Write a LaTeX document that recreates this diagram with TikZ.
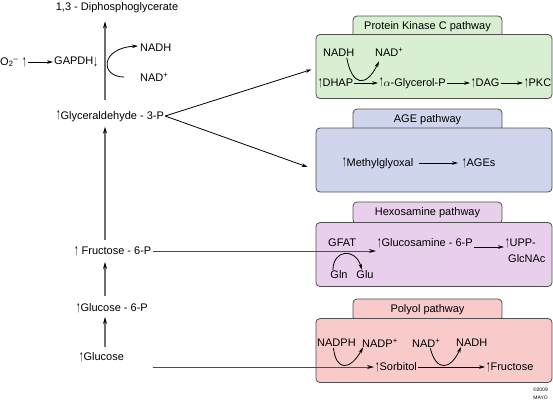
\documentclass[tikz,border=0pt]{standalone}
\usepackage{fontspec}
\setmainfont{Liberation Sans}
\usepackage{graphicx}
\usetikzlibrary{arrows.meta,calc}
\definecolor{PkcClr}{HTML}{D8EFD2}
\definecolor{AgeClr}{HTML}{CFD5EC}
\definecolor{HexClr}{HTML}{E8CFEB}
\definecolor{PolClr}{HTML}{F8CACA}
\definecolor{EdgeClr}{HTML}{505050}
\definecolor{FlowClr}{HTML}{6E6E6E}
\newcommand{\upar}{\raisebox{-0.3pt}{\scalebox{0.8}[1.45]{↑}}}
\newcommand{\dnar}{\raisebox{-2.5pt}{\scalebox{0.8}[1.45]{↓}}}

\begin{document}
\begin{tikzpicture}[x=1pt,y=-1pt,
  every node/.style={font=\fontsize{11}{13}\selectfont,inner sep=1pt},
  tab/.style={draw=EdgeClr,line width=0.8pt,rounded corners=4pt,minimum width=149pt,minimum height=22pt},
  panel/.style={draw=EdgeClr,line width=0.8pt,rounded corners=4pt,minimum width=236pt,minimum height=64pt},
  flow/.style={draw=FlowClr,line width=1.2pt,-{Stealth[length=7pt,width=4pt,black]}},
  rxn/.style={line width=0.8pt,-{Stealth[length=6pt,width=3.6pt]}},
  tiny/.style={font=\fontsize{5}{6}\selectfont,inner sep=0pt,anchor=east}]
\useasboundingbox (0,0) rectangle (553,402);

% panels
\node[tab,fill=PkcClr] (pkctab) at (427.5,27) {Protein Kinase C pathway};
\node[panel,fill=PkcClr] (pkcbox) at (434,66.5) {};
\node[tab,fill=AgeClr] (agetab) at (427.5,120) {AGE pathway};
\node[panel,fill=AgeClr] (agebox) at (434,160) {};
\node[tab,fill=HexClr] (hextab) at (427.5,213) {Hexosamine pathway};
\node[panel,fill=HexClr] (hexbox) at (434,254.5) {};
\node[tab,fill=PolClr] (poltab) at (427.5,310) {Polyol pathway};
\node[panel,fill=PolClr] (polbox) at (434,350.5) {};

% glycolysis
\coordinate (ax) at (105,0);
\node (dpg) at (117,8) {1,3 - Diphosphoglycerate};
\node[anchor=west] (o2) at (-1,62) {O\textsubscript{2}\textsuperscript{–}};
\node[anchor=west] (o2up) at (21,62) {\upar};
\node[anchor=west] (gapdh) at (53,62) {GAPDH\dnar};
\node[anchor=west] (nadh1) at (139,48) {NADH};
\node[anchor=west] (nad1) at (139,77) {NAD\textsuperscript{+}};
\node[anchor=west] (gly) at (55,116) {\upar Glyceraldehyde - 3-P};
\node[anchor=west] (fru) at (73,251) {\upar\ Fructose - 6-P};
\node[anchor=west] (g6p) at (75,308) {\upar Glucose - 6-P};
\node[anchor=west] (glc) at (78,357) {\upar Glucose};

\draw[flow,shorten <=9pt,shorten >=7pt] (gly.north -| ax) -- (dpg.south -| ax);
\draw[flow,shorten <=5pt,shorten >=4pt] (fru.north -| ax) -- (gly.south -| ax);
\draw[flow,shorten <=6pt,shorten >=5pt] (g6p.north -| ax) -- (fru.south -| ax);
\draw[flow,shorten <=4pt,shorten >=3pt] (glc.north -| ax) -- (g6p.south -| ax);
\draw[rxn] (o2up.east) -- (gapdh.west);
\draw[rxn] ([xshift=-15pt]nad1.west) .. controls (100,77) and (100,48) .. ([xshift=-1pt,yshift=2pt]nadh1.west);

\draw[rxn] (gly.east) -- ([xshift=-4pt,yshift=-3pt]pkcbox.west);
\draw[rxn] (gly.east) -- ([xshift=-8pt,yshift=-7pt]agebox.west);

% protein kinase C
\node[anchor=west] (nadh2) at (322,53) {NADH};
\node[anchor=west] (nad2) at (374,52) {NAD\textsuperscript{+}};
\node[anchor=west] (dhap) at (317,83) {\upar DHAP};
\node[anchor=west] (agp) at (378,83) {\upar$\alpha$-Glycerol-P};
\node[anchor=west] (dag) at (470,83) {\upar DAG};
\node[anchor=west] (pkc) at (523,83) {\upar PKC};
\draw[rxn] (dhap.east) -- (agp.west);
\draw[rxn] (agp.east) -- (dag.west);
\draw[rxn] (dag.east) -- (pkc.west);
\draw[rxn] ([xshift=8pt]nadh2.south) .. controls (352,86) and (366,88) .. ([xshift=5pt,yshift=-4pt]nad2.south west);

% AGE
\node[anchor=west] (mgo) at (341,163) {\upar Methylglyoxal};
\node[anchor=west] (ages) at (461,163) {\upar AGEs};
\draw[rxn,shorten <=5pt,shorten >=3pt] (mgo.east) -- (ages.west);

% hexosamine
\node[anchor=west] (gfat) at (327,243) {GFAT};
\node[anchor=west] (gln6p) at (376,243) {\upar Glucosamine - 6-P};
\node[anchor=west] (upp) at (504,243) {\upar UPP-};
\node[anchor=west] (glcnac) at (507,259) {GlcNAc};
\node (gln) at (339,275) {Gln};
\node (glu) at (365,275) {Glu};
\draw[flow,draw=FlowClr!70!black,line width=1pt] (fru.east) -- (fru.east -| gln6p.west);
\draw[rxn] ([yshift=-4pt]gln6p.east) -- ([yshift=-4pt]upp.west);
\draw[rxn] ([xshift=-6pt]gln.north) .. controls (333,250) and (355,247) .. ([xshift=-3pt]glu.north);

% polyol
\node[anchor=west] (nadph) at (316,343) {NADPH};
\node[anchor=west] (nadp) at (361,343) {NADP\textsuperscript{+}};
\node[anchor=west] (nad3) at (411,343) {NAD\textsuperscript{+}};
\node[anchor=west] (nadh3) at (455,343) {NADH};
\node[anchor=west] (sorb) at (374,367) {\upar Sorbitol};
\node[anchor=west] (fruc) at (485,367) {\upar Fructose};
\draw[flow,draw=FlowClr!70!black,line width=1pt] (sorb.west -| fru.east) -- (sorb.west);
\draw[rxn] (sorb.east) -- (fruc.west);
\draw[rxn] ([xshift=-3pt]nadph.south) .. controls (336,371) and (350,371) .. ([xshift=2pt,yshift=1pt]nadp.south west);
\draw[rxn] ([xshift=4pt]nad3.south) .. controls (436,371) and (450,371) .. ([xshift=6pt,yshift=1pt]nadh3.south west);

\node[tiny] (copy) at (548,390) {©2009};
\node[tiny] (mayo) at (548,398) {MAYO};
\end{tikzpicture}
\end{document}
